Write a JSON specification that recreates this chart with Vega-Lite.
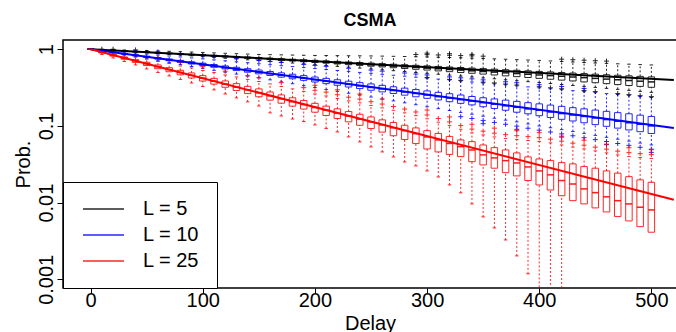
{
"$schema": "https://vega.github.io/schema/vega-lite/v6.json",
"width": 614, "height": 248,
"autosize": {"type": "none"},
"padding": {"left": 63, "top": 40, "right": 0, "bottom": 44},
"background": "white",
"title": {"text": "CSMA", "fontSize": 18, "fontWeight": "bold", "font": "Liberation Sans", "color": "black", "anchor": "middle", "baseline": "alphabetic", "offset": 14, "dy": 18},
"datasets": {
"box": [
{"d":0,"L":"L = 5","q3":1,"med":1,"q1":1,"lo":1,"hi":1},
{"d":10,"L":"L = 5","q3":0.984,"med":0.982,"q1":0.982,"lo":0.979,"hi":0.993},
{"d":20,"L":"L = 5","q3":0.967,"med":0.965,"q1":0.964,"lo":0.958,"hi":0.985},
{"d":30,"L":"L = 5","q3":0.951,"med":0.948,"q1":0.947,"lo":0.937,"hi":0.978},
{"d":40,"L":"L = 5","q3":0.936,"med":0.931,"q1":0.930,"lo":0.917,"hi":0.971},
{"d":50,"L":"L = 5","q3":0.920,"med":0.914,"q1":0.912,"lo":0.897,"hi":0.964},
{"d":60,"L":"L = 5","q3":0.905,"med":0.898,"q1":0.895,"lo":0.877,"hi":0.952},
{"d":70,"L":"L = 5","q3":0.890,"med":0.881,"q1":0.878,"lo":0.857,"hi":0.941},
{"d":80,"L":"L = 5","q3":0.875,"med":0.865,"q1":0.862,"lo":0.838,"hi":0.930},
{"d":90,"L":"L = 5","q3":0.861,"med":0.849,"q1":0.845,"lo":0.819,"hi":0.919},
{"d":100,"L":"L = 5","q3":0.847,"med":0.834,"q1":0.828,"lo":0.800,"hi":0.908},
{"d":110,"L":"L = 5","q3":0.833,"med":0.818,"q1":0.812,"lo":0.782,"hi":0.897},
{"d":120,"L":"L = 5","q3":0.819,"med":0.803,"q1":0.796,"lo":0.763,"hi":0.886},
{"d":130,"L":"L = 5","q3":0.806,"med":0.788,"q1":0.780,"lo":0.746,"hi":0.876},
{"d":140,"L":"L = 5","q3":0.792,"med":0.774,"q1":0.764,"lo":0.728,"hi":0.865},
{"d":150,"L":"L = 5","q3":0.779,"med":0.759,"q1":0.748,"lo":0.711,"hi":0.855},
{"d":160,"L":"L = 5","q3":0.766,"med":0.745,"q1":0.733,"lo":0.694,"hi":0.850},
{"d":170,"L":"L = 5","q3":0.754,"med":0.731,"q1":0.717,"lo":0.677,"hi":0.845},
{"d":180,"L":"L = 5","q3":0.741,"med":0.717,"q1":0.702,"lo":0.661,"hi":0.840},
{"d":190,"L":"L = 5","q3":0.729,"med":0.704,"q1":0.687,"lo":0.644,"hi":0.835},
{"d":200,"L":"L = 5","q3":0.717,"med":0.690,"q1":0.673,"lo":0.629,"hi":0.830},
{"d":210,"L":"L = 5","q3":0.705,"med":0.677,"q1":0.658,"lo":0.613,"hi":0.828},
{"d":220,"L":"L = 5","q3":0.694,"med":0.664,"q1":0.643,"lo":0.598,"hi":0.825},
{"d":230,"L":"L = 5","q3":0.682,"med":0.651,"q1":0.629,"lo":0.583,"hi":0.823},
{"d":240,"L":"L = 5","q3":0.671,"med":0.639,"q1":0.615,"lo":0.568,"hi":0.821},
{"d":250,"L":"L = 5","q3":0.660,"med":0.626,"q1":0.601,"lo":0.553,"hi":0.818},
{"d":260,"L":"L = 5","q3":0.649,"med":0.614,"q1":0.588,"lo":0.539,"hi":0.814},
{"d":270,"L":"L = 5","q3":0.638,"med":0.602,"q1":0.574,"lo":0.525,"hi":0.809},
{"d":280,"L":"L = 5","q3":0.628,"med":0.590,"q1":0.561,"lo":0.512,"hi":0.804},
{"d":290,"L":"L = 5","q3":0.617,"med":0.579,"q1":0.548,"lo":0.498,"hi":0.799},
{"d":300,"L":"L = 5","q3":0.607,"med":0.567,"q1":0.535,"lo":0.485,"hi":0.794},
{"d":310,"L":"L = 5","q3":0.597,"med":0.556,"q1":0.522,"lo":0.472,"hi":0.787},
{"d":320,"L":"L = 5","q3":0.587,"med":0.545,"q1":0.510,"lo":0.460,"hi":0.780},
{"d":330,"L":"L = 5","q3":0.578,"med":0.534,"q1":0.497,"lo":0.447,"hi":0.773},
{"d":340,"L":"L = 5","q3":0.568,"med":0.523,"q1":0.486,"lo":0.435,"hi":0.766},
{"d":350,"L":"L = 5","q3":0.559,"med":0.513,"q1":0.474,"lo":0.423,"hi":0.759},
{"d":360,"L":"L = 5","q3":0.550,"med":0.503,"q1":0.462,"lo":0.412,"hi":0.750},
{"d":370,"L":"L = 5","q3":0.541,"med":0.492,"q1":0.450,"lo":0.400,"hi":0.741},
{"d":380,"L":"L = 5","q3":0.532,"med":0.482,"q1":0.439,"lo":0.389,"hi":0.732},
{"d":390,"L":"L = 5","q3":0.523,"med":0.472,"q1":0.428,"lo":0.378,"hi":0.723},
{"d":400,"L":"L = 5","q3":0.514,"med":0.462,"q1":0.417,"lo":0.368,"hi":0.715},
{"d":410,"L":"L = 5","q3":0.506,"med":0.453,"q1":0.406,"lo":0.357,"hi":0.704},
{"d":420,"L":"L = 5","q3":0.497,"med":0.444,"q1":0.396,"lo":0.347,"hi":0.693},
{"d":430,"L":"L = 5","q3":0.489,"med":0.435,"q1":0.386,"lo":0.337,"hi":0.682},
{"d":440,"L":"L = 5","q3":0.481,"med":0.426,"q1":0.375,"lo":0.328,"hi":0.672},
{"d":450,"L":"L = 5","q3":0.473,"med":0.417,"q1":0.366,"lo":0.318,"hi":0.662},
{"d":460,"L":"L = 5","q3":0.465,"med":0.408,"q1":0.356,"lo":0.309,"hi":0.654},
{"d":470,"L":"L = 5","q3":0.458,"med":0.400,"q1":0.346,"lo":0.300,"hi":0.646},
{"d":480,"L":"L = 5","q3":0.450,"med":0.391,"q1":0.337,"lo":0.291,"hi":0.639},
{"d":490,"L":"L = 5","q3":0.443,"med":0.383,"q1":0.328,"lo":0.282,"hi":0.631},
{"d":500,"L":"L = 5","q3":0.436,"med":0.375,"q1":0.319,"lo":0.274,"hi":0.624},
{"d":0,"L":"L = 10","q3":1,"med":1,"q1":1,"lo":1,"hi":1},
{"d":10,"L":"L = 10","q3":0.959,"med":0.955,"q1":0.952,"lo":0.944,"hi":0.971},
{"d":20,"L":"L = 10","q3":0.920,"med":0.912,"q1":0.906,"lo":0.892,"hi":0.944},
{"d":30,"L":"L = 10","q3":0.883,"med":0.872,"q1":0.863,"lo":0.842,"hi":0.917},
{"d":40,"L":"L = 10","q3":0.846,"med":0.833,"q1":0.821,"lo":0.795,"hi":0.891},
{"d":50,"L":"L = 10","q3":0.812,"med":0.795,"q1":0.782,"lo":0.750,"hi":0.865},
{"d":60,"L":"L = 10","q3":0.779,"med":0.760,"q1":0.744,"lo":0.708,"hi":0.841},
{"d":70,"L":"L = 10","q3":0.747,"med":0.726,"q1":0.708,"lo":0.669,"hi":0.817},
{"d":80,"L":"L = 10","q3":0.716,"med":0.693,"q1":0.675,"lo":0.631,"hi":0.793},
{"d":90,"L":"L = 10","q3":0.687,"med":0.662,"q1":0.642,"lo":0.596,"hi":0.771},
{"d":100,"L":"L = 10","q3":0.659,"med":0.632,"q1":0.612,"lo":0.563,"hi":0.749},
{"d":110,"L":"L = 10","q3":0.632,"med":0.604,"q1":0.582,"lo":0.531,"hi":0.727},
{"d":120,"L":"L = 10","q3":0.606,"med":0.577,"q1":0.554,"lo":0.502,"hi":0.707},
{"d":130,"L":"L = 10","q3":0.582,"med":0.551,"q1":0.527,"lo":0.474,"hi":0.686},
{"d":140,"L":"L = 10","q3":0.558,"med":0.526,"q1":0.502,"lo":0.447,"hi":0.667},
{"d":150,"L":"L = 10","q3":0.535,"med":0.503,"q1":0.478,"lo":0.422,"hi":0.648},
{"d":160,"L":"L = 10","q3":0.513,"med":0.480,"q1":0.455,"lo":0.399,"hi":0.630},
{"d":170,"L":"L = 10","q3":0.492,"med":0.459,"q1":0.433,"lo":0.376,"hi":0.611},
{"d":180,"L":"L = 10","q3":0.472,"med":0.438,"q1":0.412,"lo":0.355,"hi":0.594},
{"d":190,"L":"L = 10","q3":0.453,"med":0.419,"q1":0.393,"lo":0.335,"hi":0.577},
{"d":200,"L":"L = 10","q3":0.434,"med":0.400,"q1":0.374,"lo":0.317,"hi":0.560},
{"d":210,"L":"L = 10","q3":0.417,"med":0.382,"q1":0.356,"lo":0.299,"hi":0.544},
{"d":220,"L":"L = 10","q3":0.400,"med":0.365,"q1":0.339,"lo":0.282,"hi":0.529},
{"d":230,"L":"L = 10","q3":0.383,"med":0.348,"q1":0.322,"lo":0.267,"hi":0.514},
{"d":240,"L":"L = 10","q3":0.367,"med":0.333,"q1":0.307,"lo":0.252,"hi":0.499},
{"d":250,"L":"L = 10","q3":0.353,"med":0.318,"q1":0.292,"lo":0.238,"hi":0.485},
{"d":260,"L":"L = 10","q3":0.338,"med":0.304,"q1":0.278,"lo":0.224,"hi":0.471},
{"d":270,"L":"L = 10","q3":0.324,"med":0.290,"q1":0.265,"lo":0.212,"hi":0.458},
{"d":280,"L":"L = 10","q3":0.311,"med":0.277,"q1":0.252,"lo":0.200,"hi":0.445},
{"d":290,"L":"L = 10","q3":0.298,"med":0.265,"q1":0.240,"lo":0.189,"hi":0.432},
{"d":300,"L":"L = 10","q3":0.286,"med":0.253,"q1":0.229,"lo":0.178,"hi":0.420},
{"d":310,"L":"L = 10","q3":0.274,"med":0.241,"q1":0.218,"lo":0.168,"hi":0.408},
{"d":320,"L":"L = 10","q3":0.263,"med":0.231,"q1":0.207,"lo":0.159,"hi":0.396},
{"d":330,"L":"L = 10","q3":0.253,"med":0.220,"q1":0.197,"lo":0.150,"hi":0.385},
{"d":340,"L":"L = 10","q3":0.242,"med":0.211,"q1":0.188,"lo":0.142,"hi":0.374},
{"d":350,"L":"L = 10","q3":0.233,"med":0.201,"q1":0.178,"lo":0.134,"hi":0.363},
{"d":360,"L":"L = 10","q3":0.225,"med":0.192,"q1":0.169,"lo":0.126,"hi":0.353},
{"d":370,"L":"L = 10","q3":0.217,"med":0.183,"q1":0.160,"lo":0.119,"hi":0.343},
{"d":380,"L":"L = 10","q3":0.209,"med":0.175,"q1":0.151,"lo":0.113,"hi":0.333},
{"d":390,"L":"L = 10","q3":0.201,"med":0.167,"q1":0.144,"lo":0.106,"hi":0.323},
{"d":400,"L":"L = 10","q3":0.194,"med":0.160,"q1":0.136,"lo":0.100,"hi":0.314},
{"d":410,"L":"L = 10","q3":0.187,"med":0.152,"q1":0.129,"lo":0.0947,"hi":0.305},
{"d":420,"L":"L = 10","q3":0.180,"med":0.145,"q1":0.122,"lo":0.0895,"hi":0.297},
{"d":430,"L":"L = 10","q3":0.173,"med":0.139,"q1":0.116,"lo":0.0845,"hi":0.288},
{"d":440,"L":"L = 10","q3":0.167,"med":0.133,"q1":0.110,"lo":0.0798,"hi":0.280},
{"d":450,"L":"L = 10","q3":0.161,"med":0.127,"q1":0.104,"lo":0.0753,"hi":0.272},
{"d":460,"L":"L = 10","q3":0.155,"med":0.121,"q1":0.0988,"lo":0.0711,"hi":0.264},
{"d":470,"L":"L = 10","q3":0.149,"med":0.115,"q1":0.0936,"lo":0.0671,"hi":0.257},
{"d":480,"L":"L = 10","q3":0.144,"med":0.110,"q1":0.0887,"lo":0.0634,"hi":0.249},
{"d":490,"L":"L = 10","q3":0.138,"med":0.105,"q1":0.0841,"lo":0.0598,"hi":0.242},
{"d":500,"L":"L = 10","q3":0.133,"med":0.100,"q1":0.0797,"lo":0.0565,"hi":0.235},
{"d":0,"L":"L = 25","q3":1,"med":1,"q1":1,"lo":1,"hi":1},
{"d":10,"L":"L = 25","q3":0.936,"med":0.917,"q1":0.895,"lo":0.855,"hi":0.965},
{"d":20,"L":"L = 25","q3":0.863,"med":0.840,"q1":0.813,"lo":0.770,"hi":0.908},
{"d":30,"L":"L = 25","q3":0.794,"med":0.768,"q1":0.741,"lo":0.693,"hi":0.843},
{"d":40,"L":"L = 25","q3":0.732,"med":0.704,"q1":0.673,"lo":0.624,"hi":0.794},
{"d":50,"L":"L = 25","q3":0.677,"med":0.645,"q1":0.613,"lo":0.553,"hi":0.747},
{"d":60,"L":"L = 25","q3":0.624,"med":0.591,"q1":0.557,"lo":0.498,"hi":0.693},
{"d":70,"L":"L = 25","q3":0.575,"med":0.542,"q1":0.509,"lo":0.449,"hi":0.653},
{"d":80,"L":"L = 25","q3":0.531,"med":0.497,"q1":0.464,"lo":0.404,"hi":0.606},
{"d":90,"L":"L = 25","q3":0.491,"med":0.457,"q1":0.422,"lo":0.363,"hi":0.570},
{"d":100,"L":"L = 25","q3":0.453,"med":0.419,"q1":0.385,"lo":0.327,"hi":0.529},
{"d":110,"L":"L = 25","q3":0.417,"med":0.383,"q1":0.351,"lo":0.295,"hi":0.498},
{"d":120,"L":"L = 25","q3":0.386,"med":0.351,"q1":0.319,"lo":0.261,"hi":0.462},
{"d":130,"L":"L = 25","q3":0.356,"med":0.321,"q1":0.290,"lo":0.232,"hi":0.435},
{"d":140,"L":"L = 25","q3":0.328,"med":0.295,"q1":0.264,"lo":0.206,"hi":0.404},
{"d":150,"L":"L = 25","q3":0.304,"med":0.270,"q1":0.240,"lo":0.182,"hi":0.380},
{"d":160,"L":"L = 25","q3":0.277,"med":0.247,"q1":0.217,"lo":0.148,"hi":0.353},
{"d":170,"L":"L = 25","q3":0.254,"med":0.226,"q1":0.198,"lo":0.135,"hi":0.327},
{"d":180,"L":"L = 25","q3":0.233,"med":0.207,"q1":0.181,"lo":0.123,"hi":0.304},
{"d":190,"L":"L = 25","q3":0.214,"med":0.190,"q1":0.166,"lo":0.114,"hi":0.282},
{"d":200,"L":"L = 25","q3":0.197,"med":0.174,"q1":0.151,"lo":0.103,"hi":0.261},
{"d":210,"L":"L = 25","q3":0.181,"med":0.160,"q1":0.137,"lo":0.0928,"hi":0.246},
{"d":220,"L":"L = 25","q3":0.167,"med":0.146,"q1":0.125,"lo":0.0835,"hi":0.228},
{"d":230,"L":"L = 25","q3":0.154,"med":0.134,"q1":0.113,"lo":0.0719,"hi":0.212},
{"d":240,"L":"L = 25","q3":0.142,"med":0.123,"q1":0.102,"lo":0.0618,"hi":0.200},
{"d":250,"L":"L = 25","q3":0.131,"med":0.113,"q1":0.0925,"lo":0.0532,"hi":0.185},
{"d":260,"L":"L = 25","q3":0.120,"med":0.103,"q1":0.0830,"lo":0.0458,"hi":0.172},
{"d":270,"L":"L = 25","q3":0.111,"med":0.0947,"q1":0.0745,"lo":0.0394,"hi":0.160},
{"d":280,"L":"L = 25","q3":0.102,"med":0.0868,"q1":0.0665,"lo":0.0339,"hi":0.148},
{"d":290,"L":"L = 25","q3":0.0942,"med":0.0793,"q1":0.0589,"lo":0.0301,"hi":0.136},
{"d":300,"L":"L = 25","q3":0.0868,"med":0.0719,"q1":0.0501,"lo":0.0259,"hi":0.124},
{"d":310,"L":"L = 25","q3":0.0798,"med":0.0657,"q1":0.0458,"lo":0.0216,"hi":0.112},
{"d":320,"L":"L = 25","q3":0.0730,"med":0.0591,"q1":0.0425,"lo":0.0170,"hi":0.101},
{"d":330,"L":"L = 25","q3":0.0657,"med":0.0537,"q1":0.0398,"lo":0.0134,"hi":0.0905},
{"d":340,"L":"L = 25","q3":0.0624,"med":0.0486,"q1":0.0342,"lo":0.00962,"hi":0.0811},
{"d":350,"L":"L = 25","q3":0.0565,"med":0.0419,"q1":0.0310,"lo":0.00651,"hi":0.0763},
{"d":360,"L":"L = 25","q3":0.0521,"med":0.0383,"q1":0.0281,"lo":0.00468,"hi":0.0719},
{"d":370,"L":"L = 25","q3":0.0486,"med":0.0353,"q1":0.0246,"lo":0.00326,"hi":0.0687},
{"d":380,"L":"L = 25","q3":0.0445,"med":0.0329,"q1":0.0223,"lo":0.00202,"hi":0.0667},
{"d":390,"L":"L = 25","q3":0.0394,"med":0.0292,"q1":0.0194,"lo":0.00118,"hi":0.0647},
{"d":400,"L":"L = 25","q3":0.0371,"med":0.0259,"q1":0.0170,"lo":0.0003,"hi":0.0628},
{"d":410,"L":"L = 25","q3":0.0353,"med":0.0230,"q1":0.0146,"lo":0.0002,"hi":0.0600},
{"d":420,"L":"L = 25","q3":0.0332,"med":0.0194,"q1":0.0123,"lo":0.0001,"hi":0.0565},
{"d":430,"L":"L = 25","q3":0.0320,"med":0.0175,"q1":0.0106,"lo":null,"hi":0.0532},
{"d":440,"L":"L = 25","q3":0.0295,"med":0.0151,"q1":0.00962,"lo":null,"hi":0.0501},
{"d":450,"L":"L = 25","q3":0.0281,"med":0.0135,"q1":0.00853,"lo":null,"hi":0.0472},
{"d":460,"L":"L = 25","q3":0.0259,"med":0.0119,"q1":0.00756,"lo":null,"hi":0.0445},
{"d":470,"L":"L = 25","q3":0.0242,"med":0.0106,"q1":0.00657,"lo":null,"hi":0.0419},
{"d":480,"L":"L = 25","q3":0.0218,"med":0.00962,"q1":0.00577,"lo":null,"hi":0.0400},
{"d":490,"L":"L = 25","q3":0.0198,"med":0.00871,"q1":0.00486,"lo":null,"hi":0.0388},
{"d":500,"L":"L = 25","q3":0.0184,"med":0.00803,"q1":0.00411,"lo":null,"hi":0.0377}
],
"out": [
{"d":10,"L":"L = 5","v":1.0},{"d":20,"L":"L = 5","v":1.0},
{"d":290,"L":"L = 5","v":0.855},{"d":300,"L":"L = 5","v":0.850},{"d":300,"L":"L = 5","v":0.889},{"d":310,"L":"L = 5","v":0.842},{"d":320,"L":"L = 5","v":0.835},{"d":320,"L":"L = 5","v":0.874},{"d":330,"L":"L = 5","v":0.827},{"d":340,"L":"L = 5","v":0.820},{"d":340,"L":"L = 5","v":0.858},{"d":350,"L":"L = 5","v":0.812},{"d":420,"L":"L = 5","v":0.742},{"d":430,"L":"L = 5","v":0.730},{"d":440,"L":"L = 5","v":0.719},{"d":450,"L":"L = 5","v":0.708},{"d":460,"L":"L = 5","v":0.700},
{"d":300,"L":"L = 5","v":0.427},{"d":320,"L":"L = 5","v":0.405},{"d":330,"L":"L = 5","v":0.393},{"d":350,"L":"L = 5","v":0.372},{"d":360,"L":"L = 5","v":0.363},{"d":370,"L":"L = 5","v":0.352},{"d":380,"L":"L = 5","v":0.342},{"d":400,"L":"L = 5","v":0.324},{"d":410,"L":"L = 5","v":0.314},{"d":420,"L":"L = 5","v":0.305},{"d":440,"L":"L = 5","v":0.289},{"d":450,"L":"L = 5","v":0.280},{"d":470,"L":"L = 5","v":0.264},{"d":480,"L":"L = 5","v":0.256},{"d":490,"L":"L = 5","v":0.248},{"d":500,"L":"L = 5","v":0.241},
{"d":40,"L":"L = 10","v":0.980},{"d":60,"L":"L = 10","v":0.925},{"d":80,"L":"L = 10","v":0.872},{"d":100,"L":"L = 10","v":0.824},{"d":110,"L":"L = 10","v":0.800},{"d":130,"L":"L = 10","v":0.755},{"d":150,"L":"L = 10","v":0.713},{"d":160,"L":"L = 10","v":0.693},{"d":170,"L":"L = 10","v":0.672},{"d":190,"L":"L = 10","v":0.635},{"d":200,"L":"L = 10","v":0.616},{"d":210,"L":"L = 10","v":0.598},{"d":230,"L":"L = 10","v":0.565},{"d":250,"L":"L = 10","v":0.534},{"d":260,"L":"L = 10","v":0.518},{"d":280,"L":"L = 10","v":0.490},{"d":290,"L":"L = 10","v":0.475},{"d":300,"L":"L = 10","v":0.462},{"d":320,"L":"L = 10","v":0.436},{"d":330,"L":"L = 10","v":0.424},{"d":340,"L":"L = 10","v":0.411},{"d":350,"L":"L = 10","v":0.399},{"d":370,"L":"L = 10","v":0.377},{"d":380,"L":"L = 10","v":0.366},{"d":400,"L":"L = 10","v":0.345},{"d":420,"L":"L = 10","v":0.327},{"d":440,"L":"L = 10","v":0.308},
{"d":330,"L":"L = 10","v":0.132},{"d":340,"L":"L = 10","v":0.125},{"d":350,"L":"L = 10","v":0.118},{"d":350,"L":"L = 10","v":0.107},{"d":360,"L":"L = 10","v":0.111},{"d":370,"L":"L = 10","v":0.105},{"d":380,"L":"L = 10","v":0.0994},{"d":380,"L":"L = 10","v":0.0904},{"d":390,"L":"L = 10","v":0.0933},{"d":400,"L":"L = 10","v":0.088},{"d":410,"L":"L = 10","v":0.0833},{"d":420,"L":"L = 10","v":0.0788},{"d":420,"L":"L = 10","v":0.0716},{"d":430,"L":"L = 10","v":0.0744},{"d":440,"L":"L = 10","v":0.0702},{"d":450,"L":"L = 10","v":0.0663},{"d":460,"L":"L = 10","v":0.0626},{"d":460,"L":"L = 10","v":0.0569},{"d":470,"L":"L = 10","v":0.0590},{"d":480,"L":"L = 10","v":0.0558},{"d":490,"L":"L = 10","v":0.0526},{"d":500,"L":"L = 10","v":0.0497},{"d":500,"L":"L = 10","v":0.0452},
{"d":60,"L":"L = 25","v":0.776},{"d":80,"L":"L = 25","v":0.679},{"d":100,"L":"L = 25","v":0.592},{"d":120,"L":"L = 25","v":0.517},{"d":140,"L":"L = 25","v":0.452},{"d":150,"L":"L = 25","v":0.426},{"d":170,"L":"L = 25","v":0.366},{"d":190,"L":"L = 25","v":0.316},{"d":200,"L":"L = 25","v":0.292},{"d":200,"L":"L = 25","v":0.339},{"d":210,"L":"L = 25","v":0.276},{"d":220,"L":"L = 25","v":0.255},{"d":220,"L":"L = 25","v":0.296},{"d":230,"L":"L = 25","v":0.237},{"d":240,"L":"L = 25","v":0.224},{"d":240,"L":"L = 25","v":0.260},{"d":250,"L":"L = 25","v":0.207},{"d":260,"L":"L = 25","v":0.193},{"d":260,"L":"L = 25","v":0.224},{"d":270,"L":"L = 25","v":0.179},{"d":280,"L":"L = 25","v":0.166},{"d":290,"L":"L = 25","v":0.152},{"d":300,"L":"L = 25","v":0.139},{"d":300,"L":"L = 25","v":0.161},{"d":310,"L":"L = 25","v":0.125},{"d":320,"L":"L = 25","v":0.113},{"d":320,"L":"L = 25","v":0.131},{"d":330,"L":"L = 25","v":0.101},{"d":340,"L":"L = 25","v":0.0908},{"d":340,"L":"L = 25","v":0.105},{"d":350,"L":"L = 25","v":0.0855},{"d":360,"L":"L = 25","v":0.0805},{"d":360,"L":"L = 25","v":0.0935},{"d":370,"L":"L = 25","v":0.0769},{"d":380,"L":"L = 25","v":0.0747},{"d":380,"L":"L = 25","v":0.0867},{"d":390,"L":"L = 25","v":0.0725},{"d":400,"L":"L = 25","v":0.0703},{"d":400,"L":"L = 25","v":0.0816},{"d":410,"L":"L = 25","v":0.0672},{"d":420,"L":"L = 25","v":0.0633},{"d":420,"L":"L = 25","v":0.0735},{"d":430,"L":"L = 25","v":0.0596},{"d":440,"L":"L = 25","v":0.0561},{"d":440,"L":"L = 25","v":0.0651},{"d":450,"L":"L = 25","v":0.0529},{"d":460,"L":"L = 25","v":0.0498},{"d":460,"L":"L = 25","v":0.0579},{"d":470,"L":"L = 25","v":0.0469},{"d":480,"L":"L = 25","v":0.0448},{"d":480,"L":"L = 25","v":0.0520},{"d":490,"L":"L = 25","v":0.0435},{"d":500,"L":"L = 25","v":0.0422},{"d":500,"L":"L = 25","v":0.0490}
],
"curve": [
{"d":0,"L":"L = 5","p":1},{"d":520,"L":"L = 5","p":0.396},
{"d":0,"L":"L = 10","p":1},{"d":520,"L":"L = 10","p":0.0941},
{"d":0,"L":"L = 25","p":1},{"d":520,"L":"L = 25","p":0.0109}
]
},
"encoding": {
"x": {"field": "d", "type": "quantitative", "scale": {"domain": [-20.2, 518.4], "nice": false, "zero": false},
"axis": {"title": "Delay", "values": [0, 100, 200, 300, 400, 500], "tickSize": 5, "labelPadding": -3, "titlePadding": 3, "labelFlush": false, "labelOverlap": false}},
"color": {"field": "L", "type": "nominal", "scale": {"domain": ["L = 5", "L = 10", "L = 25"], "range": ["#000000", "#0000ff", "#ff0000"]},
"legend": {"title": null, "orient": "none", "legendX": 0, "legendY": 142, "symbolType": "stroke", "symbolSize": 1681, "symbolStrokeWidth": 1.5, "clipHeight": 20, "rowPadding": 6, "labelFontSize": 20, "labelFont": "Liberation Sans", "labelColor": "black", "labelOffset": 18, "padding": 17, "fillColor": "white", "strokeColor": "black", "symbolOffset": 2}}
},
"layer": [
{"data": {"name": "box"}, "mark": {"type": "rule", "strokeDash": [2, 2], "strokeWidth": 1, "opacity": 0.85, "clip": true},
 "encoding": {"y": {"field": "q3", "type": "quantitative", "scale": {"type": "log", "domain": [0.00077, 1.32], "nice": false}, "axis": {"title": "Prob.", "values": [0.001, 0.01, 0.1, 1], "format": "~g", "labelAngle": -90, "labelAlign": "center", "labelBaseline": "alphabetic", "tickSize": 6, "labelPadding": 5, "titlePadding": 3}}, "y2": {"field": "hi"}}},
{"data": {"name": "box"}, "mark": {"type": "rule", "strokeDash": [2, 2], "strokeWidth": 1, "opacity": 0.85, "clip": true},
 "encoding": {"y": {"field": "lo", "type": "quantitative", "scale": {"type": "log", "domain": [0.00077, 1.32], "nice": false}, "axis": {"title": "Prob.", "values": [0.001, 0.01, 0.1, 1], "format": "~g", "labelAngle": -90, "labelAlign": "center", "labelBaseline": "alphabetic", "tickSize": 6, "labelPadding": 5, "titlePadding": 3}}, "y2": {"field": "q1"}}},
{"data": {"name": "box"}, "mark": {"type": "tick", "orient": "horizontal", "size": 3.5, "thickness": 1, "opacity": 0.85, "clip": true},
 "encoding": {"y": {"field": "hi", "type": "quantitative", "scale": {"type": "log", "domain": [0.00077, 1.32], "nice": false}, "axis": {"title": "Prob.", "values": [0.001, 0.01, 0.1, 1], "format": "~g", "labelAngle": -90, "labelAlign": "center", "labelBaseline": "alphabetic", "tickSize": 6, "labelPadding": 5, "titlePadding": 3}}}},
{"data": {"name": "box"}, "mark": {"type": "tick", "orient": "horizontal", "size": 3.5, "thickness": 1, "opacity": 0.85, "clip": true},
 "encoding": {"y": {"field": "lo", "type": "quantitative", "scale": {"type": "log", "domain": [0.00077, 1.32], "nice": false}, "axis": {"title": "Prob.", "values": [0.001, 0.01, 0.1, 1], "format": "~g", "labelAngle": -90, "labelAlign": "center", "labelBaseline": "alphabetic", "tickSize": 6, "labelPadding": 5, "titlePadding": 3}}}},
{"data": {"name": "box"}, "mark": {"type": "bar", "size": 6.5, "filled": false, "strokeWidth": 1, "opacity": 0.85, "clip": true},
 "encoding": {"y": {"field": "q1", "type": "quantitative", "scale": {"type": "log", "domain": [0.00077, 1.32], "nice": false}, "axis": {"title": "Prob.", "values": [0.001, 0.01, 0.1, 1], "format": "~g", "labelAngle": -90, "labelAlign": "center", "labelBaseline": "alphabetic", "tickSize": 6, "labelPadding": 5, "titlePadding": 3}}, "y2": {"field": "q3"}}},
{"data": {"name": "box"}, "mark": {"type": "tick", "orient": "horizontal", "size": 6.5, "thickness": 1.5, "opacity": 0.9, "clip": true},
 "encoding": {"y": {"field": "med", "type": "quantitative", "scale": {"type": "log", "domain": [0.00077, 1.32], "nice": false}, "axis": {"title": "Prob.", "values": [0.001, 0.01, 0.1, 1], "format": "~g", "labelAngle": -90, "labelAlign": "center", "labelBaseline": "alphabetic", "tickSize": 6, "labelPadding": 5, "titlePadding": 3}}}},
{"data": {"name": "out"}, "mark": {"type": "point", "shape": "M-1,0L1,0M0,-1L0,1", "size": 25, "filled": false, "strokeWidth": 1, "opacity": 0.85, "clip": true},
 "encoding": {"y": {"field": "v", "type": "quantitative", "scale": {"type": "log", "domain": [0.00077, 1.32], "nice": false}, "axis": {"title": "Prob.", "values": [0.001, 0.01, 0.1, 1], "format": "~g", "labelAngle": -90, "labelAlign": "center", "labelBaseline": "alphabetic", "tickSize": 6, "labelPadding": 5, "titlePadding": 3}}}},
{"data": {"name": "curve"}, "mark": {"type": "line", "strokeWidth": 2, "clip": true},
 "encoding": {"y": {"field": "p", "type": "quantitative", "scale": {"type": "log", "domain": [0.00077, 1.32], "nice": false}, "axis": {"title": "Prob.", "values": [0.001, 0.01, 0.1, 1], "format": "~g", "labelAngle": -90, "labelAlign": "center", "labelBaseline": "alphabetic", "tickSize": 6, "labelPadding": 5, "titlePadding": 3}}}}
],
"config": {
"font": "Liberation Sans",
"view": {"stroke": "black", "strokeWidth": 1.5},
"axis": {"grid": false, "domain": false, "tickColor": "black", "tickWidth": 1, "labelColor": "black", "titleColor": "black", "labelFont": "Liberation Sans", "titleFont": "Liberation Sans", "labelFontSize": 20, "titleFontSize": 20, "titleFontWeight": "normal"}
}
}
